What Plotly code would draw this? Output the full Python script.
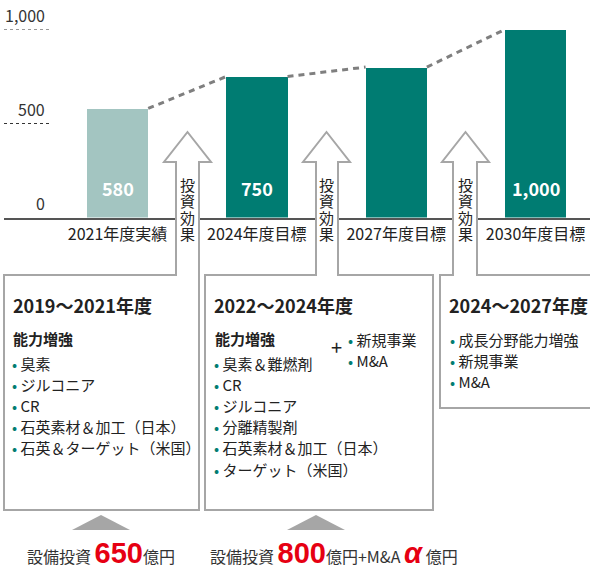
import plotly.graph_objects as go

W, H = 590, 566

# chart data
categories = ["2021年度実績", "2024年度目標", "2027年度目標", "2030年度目標"]
values = [580, 750, 800, 1000]
bar_labels = ["580", "750", "", "1,000"]
bar_colors = ["#a3c5c1", "#007c72", "#007c72", "#007c72"]
y_ticks = [0, 500, 1000]
y_tick_labels = ["0", "500", "1,000"]

# text of the three period boxes
box1_title = "2019〜2021年度"
box1_items = ["臭素", "ジルコニア", "CR", "石英素材＆加工（日本）", "石英＆ターゲット（米国）"]
box2_title = "2022〜2024年度"
box2_items = ["臭素＆難燃剤", "CR", "ジルコニア", "分離精製剤", "石英素材＆加工（日本）", "ターゲット（米国）"]
box2_extra = ["新規事業", "M&A"]
box3_title = "2024〜2027年度"
box3_items = ["成長分野能力増強", "新規事業", "M&A"]
arrow_text = "投資効果"

FONT = "Noto Sans CJK JP, Noto Sans, sans-serif"
TEAL = "#007c72"
RED = "#e60012"
GRAY = "#a6a6a6"
BAR_W = 0.44


def px(x):
    return x / W


def py(y):
    return 1 - y / H


def path(points):
    s = "M " + " L ".join(f"{px(x):.5f},{py(y):.5f}" for x, y in points)
    return s + " Z"


fig = go.Figure()

fig.add_trace(go.Bar(
    x=list(range(len(values))), y=values, width=BAR_W,
    marker=dict(color=bar_colors, line=dict(width=0)),
    hoverinfo="skip", showlegend=False,
))

# dashed connectors between bar tops
for i in range(len(values) - 1):
    fig.add_trace(go.Scatter(
        x=[i + BAR_W / 2, i + 1 - BAR_W / 2], y=[values[i], values[i + 1]],
        mode="lines", line=dict(color="#7f7f7f", width=3, dash="6px,5px"),
        hoverinfo="skip", showlegend=False,
    ))

annotations = []

# bar value labels
for i, lab in enumerate(bar_labels):
    if lab:
        annotations.append(dict(
            x=i, y=0, xref="x", yref="y", text=f"<b>{lab}</b>", showarrow=False,
            yanchor="middle", yshift=30, font=dict(size=18, color="white", family=FONT),
        ))

# y tick labels sitting above short dotted lines
for v, lab in zip(y_ticks, y_tick_labels):
    annotations.append(dict(
        x=px(47), y=v, xref="paper", yref="y", text=lab, showarrow=False,
        xanchor="right", yanchor="bottom", yshift=1,
        font=dict(size=16, color="#333333", family=FONT),
    ))

shapes = []
for v in y_ticks[1:]:
    shapes.append(dict(
        type="line", xref="paper", yref="y", x0=px(4), x1=px(49), y0=v, y1=v,
        line=dict(color="#333333", width=1, dash="dot"),
    ))

# box + arrow outlines
box_paths = [
    [(4, 510), (4, 275), (176, 275), (176, 162), (164, 162), (187.5, 132),
     (211, 162), (199, 162), (199, 510)],
    [(205, 510), (205, 275), (316, 275), (316, 162), (303, 162), (326.5, 132),
     (350, 162), (338, 162), (338, 275), (433, 275), (433, 510)],
    [(440, 408), (440, 275), (453, 275), (453, 162), (442, 162), (465.5, 132),
     (489, 162), (477, 162), (477, 275), (596, 275), (596, 408)],
]
for pts in box_paths:
    shapes.append(dict(
        type="path", xref="paper", yref="paper", path=path(pts),
        fillcolor="white", line=dict(color=GRAY, width=2), layer="above",
    ))

# triangles under boxes
for cx in [101, 316]:
    shapes.append(dict(
        type="path", xref="paper", yref="paper",
        path=path([(cx - 29, 530), (cx, 515), (cx + 29, 530)]),
        fillcolor=GRAY, line=dict(width=0), layer="above",
    ))

# vertical arrow text
for cx in [187.5, 326.5, 465.5]:
    for k, ch in enumerate(arrow_text):
        annotations.append(dict(
            x=px(cx), y=py(184 + k * 16.5), xref="paper", yref="paper", text=ch,
            showarrow=False, xanchor="center", yanchor="middle",
            font=dict(size=15, color="#222222", family=FONT),
        ))


def txt(x, y, s, size=15, bold=False, color="#222222"):
    if bold:
        s = f"<b>{s}</b>"
    annotations.append(dict(
        x=px(x), y=py(y), xref="paper", yref="paper", text=s, showarrow=False,
        xanchor="left", yanchor="middle", font=dict(size=size, color=color, family=FONT),
    ))


def bullet(x, y, s):
    annotations.append(dict(
        x=px(x), y=py(y), xref="paper", yref="paper",
        text=f"<span style='color:{TEAL}'>•</span> {s}", showarrow=False,
        xanchor="left", yanchor="middle", font=dict(size=15, color="#222222", family=FONT),
    ))


# box 1
txt(11, 305, box1_title, size=18, bold=True)
txt(11, 338, "能力増強", size=15, bold=True)
for k, s in enumerate(box1_items):
    bullet(10, 363 + k * 21.2, s)

# box 2
txt(212, 305, box2_title, size=18, bold=True)
txt(213, 338, "能力増強", size=15, bold=True)
for k, s in enumerate(box2_items):
    bullet(212, 363 + k * 21.2, s)
txt(329, 346, "+", size=20)
for k, s in enumerate(box2_extra):
    bullet(346, 339 + k * 21.2, s)

# box 3
txt(447, 305, box3_title, size=18, bold=True)
for k, s in enumerate(box3_items):
    bullet(448, 339 + k * 21.2, s)

# capex lines
big = "font-family:Liberation Sans, Arial, sans-serif;font-size:29px;color:" + RED
txt(25, 553, f"設備投資 <span style='{big}'><b>650</b></span>億円", size=16, color="#333333")
txt(208, 553,
    f"設備投資 <span style='{big}'><b>800</b></span>億円+M&A "
    f"<span style='{big}'><b><i>α</i></b></span> 億円",
    size=16, color="#333333")

fig.update_layout(
    width=W, height=H, autosize=False,
    margin=dict(l=0, r=0, t=0, b=0),
    paper_bgcolor="white", plot_bgcolor="rgba(0,0,0,0)",
    font=dict(family=FONT),
    bargap=0,
    xaxis=dict(
        domain=[px(4), 1], range=[-0.815, 3.391],
        tickvals=list(range(len(categories))), ticktext=categories,
        tickfont=dict(size=16, color="#222222", family=FONT),
        showgrid=False, zeroline=False, showline=True, linecolor="#555555", linewidth=1.5,
        ticks="", ticklabelstandoff=2, fixedrange=True,
    ),
    yaxis=dict(
        domain=[py(217.5), py(29.5)], range=[0, 1000],
        showgrid=False, zeroline=False, showticklabels=False, fixedrange=True,
    ),
    shapes=shapes,
    annotations=annotations,
)

# drop the default page margin so the figure sits at the window's corner
fig.write_html("out.html", config={"displayModeBar": False},
               post_script="document.body.style.margin='0';")
